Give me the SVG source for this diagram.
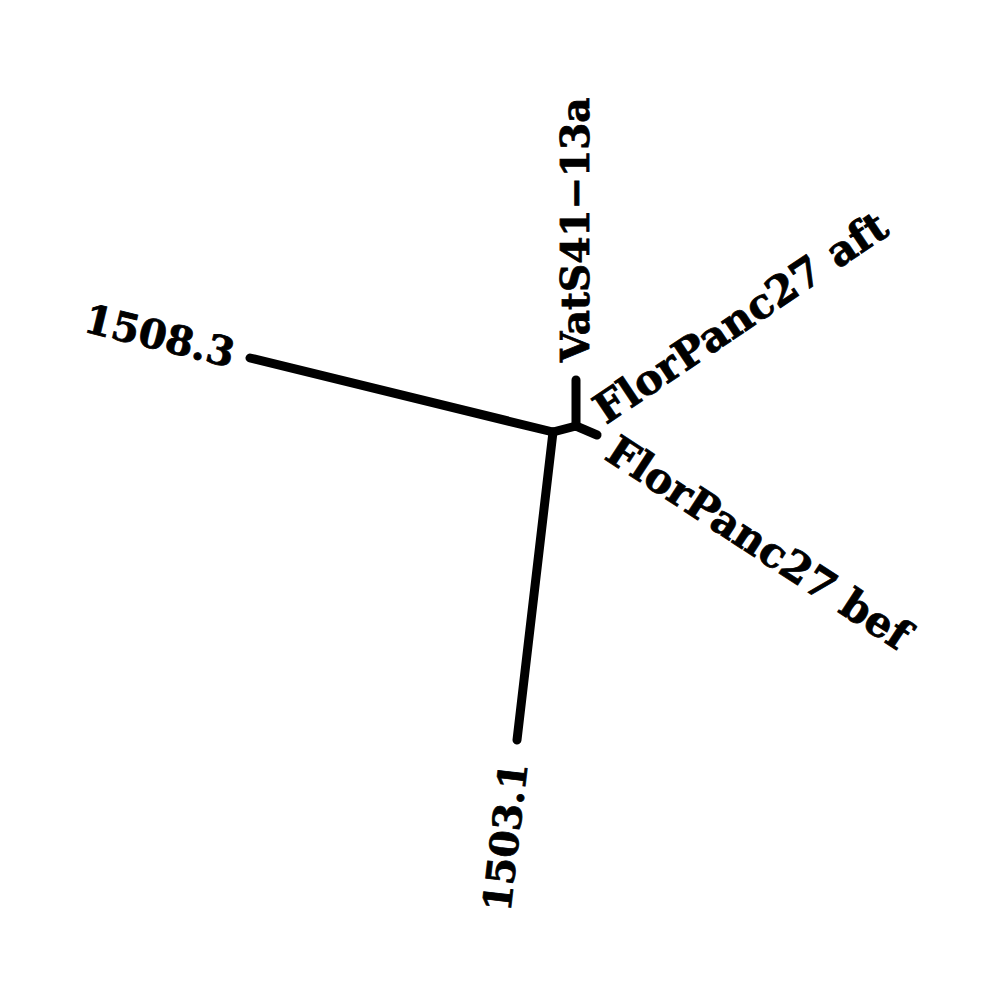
<svg xmlns="http://www.w3.org/2000/svg" width="1000" height="1000" viewBox="0 0 1000 1000">
<style>
.br{stroke:#000;stroke-width:9;stroke-linecap:round;fill:none}
.lb{font-family:"DejaVu Serif","Liberation Serif",serif;font-weight:bold;font-size:39px;fill:#000;stroke:#000;stroke-width:0.8}
.fl{font-size:41.5px}
</style>
<rect width="1000" height="1000" fill="#fff"/>
<g id="connectors">
<line class="br" x1="553" y1="432" x2="250" y2="358"/>
<line class="br" x1="553" y1="432" x2="517" y2="740"/>
<line class="br" x1="553" y1="432" x2="576" y2="426"/>
<line class="br" x1="576" y1="426" x2="576" y2="380"/>
<line class="br" x1="576" y1="426" x2="597" y2="435"/>
</g>
<g id="node-1508.3"><text class="lb" style="font-size:40px" text-anchor="end" dy="0.35em" transform="translate(234,354) rotate(13.7)">1508.3</text></g>
<g id="node-1503.1"><text class="lb" text-anchor="end" dy="0.35em" transform="translate(514,763) rotate(-83.3)">1503.1</text></g>
<g id="node-VatS41-13a"><text class="lb" text-anchor="start" dy="0.35em" transform="translate(575,362) rotate(-90)">VatS41−13a</text></g>
<g id="node-FlorPanc27-aft"><text class="lb fl" text-anchor="start" dy="0.35em" transform="translate(598,413) rotate(-33.9)">FlorPanc27 aft</text></g>
<g id="node-FlorPanc27-bef"><text class="lb fl" text-anchor="start" dy="0.35em" transform="translate(611,446) rotate(33.2)">FlorPanc27 bef</text></g>
</svg>
